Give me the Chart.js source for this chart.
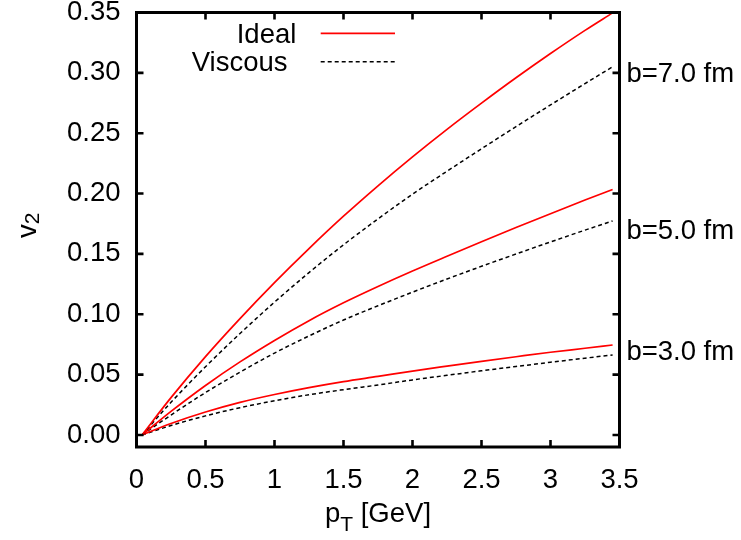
<!DOCTYPE html>
<html><head><meta charset="utf-8">
<script src="https://cdn.jsdelivr.net/npm/chart.js@4.4.0/dist/chart.umd.min.js"></script>
<style>html,body{margin:0;padding:0;background:#fff;} canvas{display:block;}</style>
</head><body>
<canvas id="c" width="741" height="540"></canvas>
<script>
// ---- data ----
const pT      = [0.04, 0.25, 0.5, 0.75, 1.0, 1.25, 1.5, 1.75, 2.0, 2.25, 2.5, 2.75, 3.0, 3.25, 3.45];
const idealB7 = [0, 0.0309, 0.0649, 0.0964, 0.1262, 0.1544, 0.1812, 0.2064, 0.2304, 0.2532, 0.2749, 0.2959, 0.316, 0.3352, 0.3497];
const viscB7  = [0, 0.027, 0.0565, 0.084, 0.110, 0.1345, 0.1575, 0.179, 0.1995, 0.2185, 0.2371, 0.2554, 0.2734, 0.2911, 0.305];
const idealB5 = [0, 0.0195, 0.041, 0.0605, 0.0783, 0.0947, 0.1095, 0.123, 0.1358, 0.148, 0.160, 0.1718, 0.1833, 0.1946, 0.2034];
const viscB5  = [0, 0.0165, 0.0351, 0.052, 0.0678, 0.0820, 0.0952, 0.107, 0.1183, 0.1292, 0.1397, 0.1499, 0.1599, 0.1697, 0.1773];
const idealB3 = [0, 0.0095, 0.019, 0.027, 0.0335, 0.0392, 0.0442, 0.0485, 0.0529, 0.057, 0.061, 0.0648, 0.0685, 0.0718, 0.0745];
const viscB3  = [0, 0.0078, 0.0158, 0.0226, 0.0283, 0.0333, 0.0375, 0.0414, 0.0456, 0.0494, 0.0531, 0.0567, 0.0602, 0.0636, 0.0663];

const xTicks = [0, 0.5, 1, 1.5, 2, 2.5, 3, 3.5];
const xTickLabels = ['0', '0.5', '1', '1.5', '2', '2.5', '3', '3.5'];
const yTicks = [0, 0.05, 0.10, 0.15, 0.20, 0.25, 0.30, 0.35];
const yTickLabels = ['0.00', '0.05', '0.10', '0.15', '0.20', '0.25', '0.30', '0.35'];
const seriesNames = ['Ideal', 'Viscous'];
const curveLabels = ['b=7.0 fm', 'b=5.0 fm', 'b=3.0 fm'];
const curveLabelX = [3.55, 3.55, 3.55];
const curveLabelY = [0.30, 0.17, 0.07];

// ---- styling ----
const FONT = '"Liberation Sans", Arial, Helvetica, sans-serif';
const FS = 27.5;
const SUB = 21;
const RED = '#ff0000';
const BLACK = '#000000';

function pts(ys) { return pT.map((x, i) => ({x: x, y: ys[i]})); }
function idealDS(label, ys) {
  return {label: label, data: pts(ys), borderColor: RED, borderWidth: 1.7, fill: false};
}
function viscDS(label, ys) {
  return {label: label, data: pts(ys), borderColor: BLACK, borderWidth: 1.5, borderDash: [4, 3], fill: false};
}

const decor = {
  id: 'decor',
  afterDraw(chart) {
    const {ctx, chartArea: a, scales: {x, y}} = chart;
    ctx.save();
    // frame
    ctx.strokeStyle = BLACK;
    ctx.lineWidth = 3;
    ctx.strokeRect(a.left, a.top, a.right - a.left, a.bottom - a.top);
    // inward ticks, mirrored
    const TL = 7;
    ctx.lineWidth = 2.6;
    ctx.beginPath();
    xTicks.forEach(v => {
      const px = x.getPixelForValue(v);
      ctx.moveTo(px, a.bottom); ctx.lineTo(px, a.bottom - TL);
      ctx.moveTo(px, a.top); ctx.lineTo(px, a.top + TL);
    });
    yTicks.forEach(v => {
      const py = y.getPixelForValue(v);
      ctx.moveTo(a.left, py); ctx.lineTo(a.left + TL, py);
      ctx.moveTo(a.right, py); ctx.lineTo(a.right - TL, py);
    });
    ctx.stroke();

    ctx.fillStyle = BLACK;
    ctx.textBaseline = 'alphabetic';
    ctx.textAlign = 'left';
    // curve labels
    ctx.font = FS + 'px ' + FONT;
    curveLabels.forEach((t, i) => {
      ctx.fillText(t, x.getPixelForValue(curveLabelX[i]), y.getPixelForValue(curveLabelY[i]) + 9.5);
    });

    // legend
    const ds = chart.data.datasets;
    const legendItems = [
      {text: seriesNames[0], tx: 236.7, base: 43.3, ly: 33.3, d: ds[0]},
      {text: seriesNames[1], tx: 191.7, base: 71, ly: 61.7, d: ds[1]}
    ];
    legendItems.forEach(it => {
      ctx.font = FS + 'px ' + FONT;
      ctx.fillText(it.text, it.tx, it.base);
      ctx.save();
      ctx.strokeStyle = it.d.borderColor;
      ctx.lineWidth = it.d.borderWidth;
      ctx.setLineDash(it.d.borderDash || []);
      ctx.beginPath();
      ctx.moveTo(320.7, it.ly); ctx.lineTo(395, it.ly);
      ctx.stroke();
      ctx.restore();
    });

    // x axis title: p_T [GeV]
    const cx = (a.left + a.right) / 2;
    ctx.font = FS + 'px ' + FONT;
    const wP = ctx.measureText('p').width;
    const wRest = ctx.measureText(' [GeV]').width;
    ctx.font = SUB + 'px ' + FONT;
    const wT = ctx.measureText('T').width;
    let sx = cx - (wP + wT + wRest) / 2;
    const base = 522;
    ctx.font = FS + 'px ' + FONT;
    ctx.fillText('p', sx, base);
    ctx.font = SUB + 'px ' + FONT;
    ctx.fillText('T', sx + wP, base + 9);
    ctx.font = FS + 'px ' + FONT;
    ctx.fillText(' [GeV]', sx + wP + wT, base);

    // y axis title: v_2
    ctx.translate(35.5, 238);
    ctx.rotate(-Math.PI / 2);
    ctx.font = FS + 'px ' + FONT;
    ctx.fillText('v', 0, 0);
    const wv = ctx.measureText('v').width;
    ctx.font = SUB + 'px ' + FONT;
    ctx.fillText('2', wv, 3.5);
    ctx.restore();
  }
};

new Chart(document.getElementById('c').getContext('2d'), {
  type: 'line',
  data: {
    datasets: [
      idealDS('Ideal b=7.0 fm', idealB7),
      viscDS('Viscous b=7.0 fm', viscB7),
      idealDS('Ideal b=5.0 fm', idealB5),
      viscDS('Viscous b=5.0 fm', viscB5),
      idealDS('Ideal b=3.0 fm', idealB3),
      viscDS('Viscous b=3.0 fm', viscB3)
    ]
  },
  options: {
    responsive: false,
    animation: false,
    devicePixelRatio: 1,
    layout: {padding: {left: 0, right: 121.5, top: 12.5, bottom: 0}},
    plugins: {legend: {display: false}, tooltip: {enabled: false}},
    elements: {point: {radius: 0}, line: {cubicInterpolationMode: 'monotone'}},
    scales: {
      x: {
        type: 'linear', min: 0, max: 3.5,
        grid: {display: false, drawTicks: false},
        border: {display: false},
        afterBuildTicks: s => { s.ticks = xTicks.map(v => ({value: v})); },
        afterFit: s => { s.height = 93; s.paddingLeft = 0; s.paddingRight = 0; },
        ticks: {
          autoSkip: false, maxRotation: 0, minRotation: 0, padding: 17, color: BLACK,
          font: {family: FONT, size: FS},
          callback: (v, i) => xTickLabels[i]
        }
      },
      y: {
        type: 'linear', min: -0.01, max: 0.35,
        grid: {display: false, drawTicks: false},
        border: {display: false},
        afterBuildTicks: s => { s.ticks = yTicks.map(v => ({value: v})); },
        afterFit: s => { s.width = 136.5; s.paddingTop = 0; s.paddingBottom = 0; },
        ticks: {
          autoSkip: false, padding: 16, color: BLACK,
          font: {family: FONT, size: FS},
          callback: (v, i) => yTickLabels[i]
        }
      }
    }
  },
  plugins: [decor]
});
</script>
</body></html>
